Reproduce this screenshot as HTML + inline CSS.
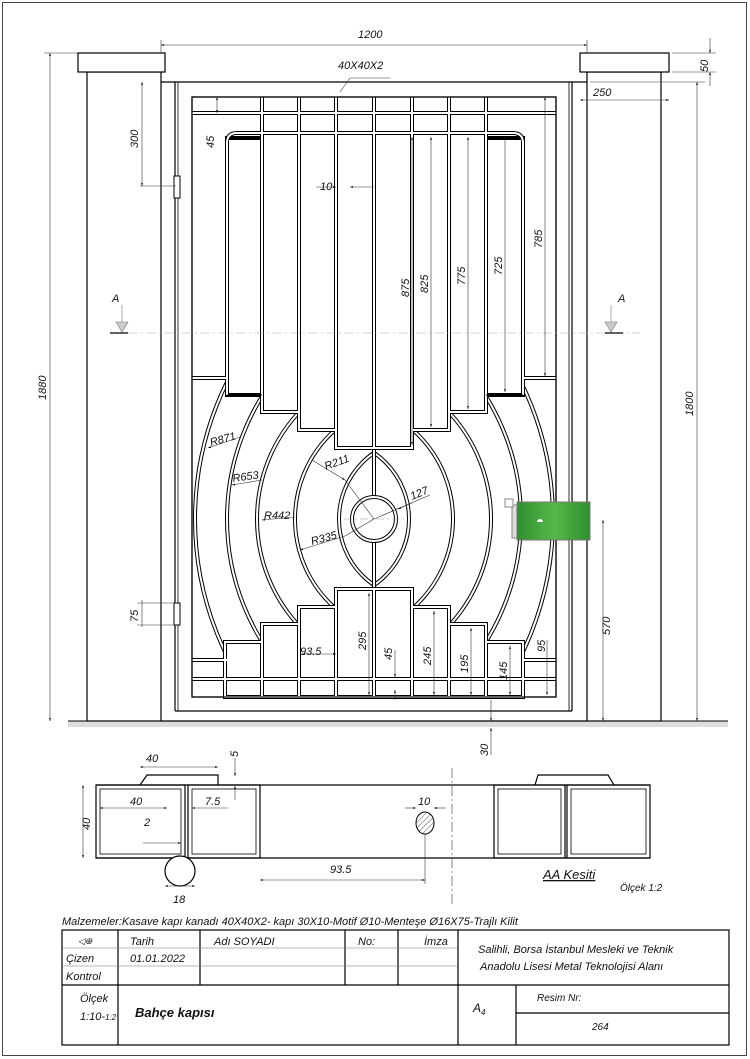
<!DOCTYPE html>
<html><head><meta charset="utf-8"><style>
html,body{margin:0;padding:0;background:#fff}
svg{display:block}
text{font-family:"Liberation Sans",sans-serif;font-style:italic;fill:#111}
</style></head><body>
<svg width="750" height="1059" viewBox="0 0 750 1059" xmlns="http://www.w3.org/2000/svg">
<defs>
<linearGradient id="g" x1="0" x2="1"><stop offset="0" stop-color="#2f8f2f"/><stop offset="0.5" stop-color="#55b84a"/><stop offset="1" stop-color="#2f8f2f"/></linearGradient>
<marker id="a" viewBox="0 0 10 10" refX="10" refY="5" markerWidth="7" markerHeight="5" orient="auto-start-reverse"><path d="M0,2 L10,5 L0,8z" fill="#000"/></marker>
<clipPath id="bandL"><rect x="192" y="378" width="182" height="282"/></clipPath>
<clipPath id="bandR"><rect x="374" y="378" width="182" height="282"/></clipPath>
<pattern id="h" width="4" height="4" patternUnits="userSpaceOnUse" patternTransform="rotate(45)"><line x1="0" y1="0" x2="0" y2="4" stroke="#555" stroke-width="1"/></pattern>
</defs>
<rect x="2.5" y="2.5" width="744" height="1053" fill="none" stroke="#444" stroke-width="1"/>

<rect x="68" y="721" width="660" height="6" fill="#ddd"/>
<line x1="68" y1="721" x2="728" y2="721" stroke="#000"/>

<g fill="#fff" stroke="#000" stroke-width="1.2">
<rect x="87" y="72" width="74" height="649"/>
<rect x="78" y="53" width="87" height="19"/>
<rect x="587" y="72" width="74" height="649"/>
<rect x="580" y="53" width="89" height="19"/>
</g>
<g fill="none" stroke="#000" stroke-width="1.2">
<line x1="161" y1="82" x2="587" y2="82"/>
<line x1="161" y1="721" x2="587" y2="721"/>
<line x1="175" y1="711" x2="572" y2="711"/>
<line x1="175" y1="82" x2="175" y2="711"/>
<line x1="572" y1="82" x2="572" y2="711"/>
<line x1="569" y1="82" x2="569" y2="711" stroke-width="0.8"/>
<line x1="178" y1="82" x2="178" y2="711" stroke-width="0.8"/>
<rect x="192" y="97" width="364" height="600"/>
</g>
<rect x="174" y="176" width="6" height="22" fill="#fff" stroke="#000"/>
<rect x="174" y="603" width="6" height="22" fill="#fff" stroke="#000"/>

<g fill="none">
<g clip-path="url(#bandL)">
<g stroke="#000" stroke-width="4">
<circle cx="414" cy="519" r="119"/><circle cx="414" cy="519" r="157"/><circle cx="459" cy="519" r="232"/><circle cx="504" cy="519" r="309"/><circle cx="419" cy="519" r="80"/>
</g>
<g stroke="#fff" stroke-width="2">
<circle cx="414" cy="519" r="119"/><circle cx="414" cy="519" r="157"/><circle cx="459" cy="519" r="232"/><circle cx="504" cy="519" r="309"/><circle cx="419" cy="519" r="80"/>
</g>
</g>
<g clip-path="url(#bandR)">
<g stroke="#000" stroke-width="4">
<circle cx="334" cy="519" r="119"/><circle cx="334" cy="519" r="157"/><circle cx="289" cy="519" r="232"/><circle cx="244" cy="519" r="309"/><circle cx="329" cy="519" r="80"/>
</g>
<g stroke="#fff" stroke-width="2">
<circle cx="334" cy="519" r="119"/><circle cx="334" cy="519" r="157"/><circle cx="289" cy="519" r="232"/><circle cx="244" cy="519" r="309"/><circle cx="329" cy="519" r="80"/>
</g>
</g>
</g>
<line x1="374" y1="448" x2="374" y2="590" stroke="#000" stroke-width="4"/>
<line x1="374" y1="448" x2="374" y2="590" stroke="#fff" stroke-width="2"/>
<circle cx="374" cy="519" r="22" fill="#fff" stroke="#000" stroke-width="4"/>
<circle cx="374" cy="519" r="22" fill="none" stroke="#fff" stroke-width="2"/>
<line x1="344" y1="519" x2="404" y2="519" stroke="#999" stroke-width="0.6" stroke-dasharray="8 3 2 3"/>

<g fill="#fff" stroke="#000" stroke-width="4">
<line x1="192" y1="113" x2="556" y2="113"/>
<line x1="262" y1="97" x2="262" y2="133"/><line x1="299" y1="97" x2="299" y2="133"/>
<line x1="336" y1="97" x2="336" y2="133"/><line x1="374" y1="97" x2="374" y2="133"/>
<line x1="412" y1="97" x2="412" y2="133"/><line x1="449" y1="97" x2="449" y2="133"/>
<line x1="486" y1="97" x2="486" y2="133"/>
<path d="M227,395 V143 Q227,133 237,133 H513 Q523,133 523,143 V395"/>
<rect x="262" y="133" width="37" height="279"/>
<rect x="449" y="133" width="37" height="279"/>
<rect x="299" y="133" width="37" height="297"/>
<rect x="412" y="133" width="37" height="297"/>
<rect x="336" y="133" width="76" height="315"/>
<rect x="227" y="138" width="35" height="257"/>
<rect x="486" y="138" width="37" height="257"/>
<line x1="374" y1="133" x2="374" y2="448"/>
<line x1="192" y1="378" x2="227" y2="378"/><line x1="523" y1="378" x2="556" y2="378"/>
<line x1="192" y1="660" x2="227" y2="660"/><line x1="523" y1="660" x2="556" y2="660"/>
<rect x="336" y="589" width="76" height="108"/>
<rect x="299" y="607" width="37" height="90"/>
<rect x="412" y="607" width="37" height="90"/>
<rect x="262" y="624" width="37" height="73"/>
<rect x="449" y="624" width="37" height="73"/>
<rect x="225" y="642" width="37" height="55"/>
<rect x="486" y="642" width="37" height="55"/>
<line x1="374" y1="589" x2="374" y2="697"/>
<line x1="192" y1="679" x2="556" y2="679"/>
</g>
<g fill="none" stroke="#fff" stroke-width="2">
<line x1="192" y1="113" x2="556" y2="113"/>
<line x1="262" y1="97" x2="262" y2="133"/><line x1="299" y1="97" x2="299" y2="133"/>
<line x1="336" y1="97" x2="336" y2="133"/><line x1="374" y1="97" x2="374" y2="133"/>
<line x1="412" y1="97" x2="412" y2="133"/><line x1="449" y1="97" x2="449" y2="133"/>
<line x1="486" y1="97" x2="486" y2="133"/>
<path d="M227,395 V143 Q227,133 237,133 H513 Q523,133 523,143 V395"/>
<rect x="262" y="133" width="37" height="279"/>
<rect x="449" y="133" width="37" height="279"/>
<rect x="299" y="133" width="37" height="297"/>
<rect x="412" y="133" width="37" height="297"/>
<rect x="336" y="133" width="76" height="315"/>
<line x1="374" y1="133" x2="374" y2="448"/>
<line x1="192" y1="378" x2="227" y2="378"/><line x1="523" y1="378" x2="556" y2="378"/>
<line x1="192" y1="660" x2="227" y2="660"/><line x1="523" y1="660" x2="556" y2="660"/>
<rect x="336" y="589" width="76" height="108"/>
<rect x="299" y="607" width="37" height="90"/>
<rect x="412" y="607" width="37" height="90"/>
<rect x="262" y="624" width="37" height="73"/>
<rect x="449" y="624" width="37" height="73"/>
<rect x="225" y="642" width="37" height="55"/>
<rect x="486" y="642" width="37" height="55"/>
<line x1="374" y1="589" x2="374" y2="697"/>
<line x1="192" y1="679" x2="556" y2="679"/>
</g>
<line x1="227" y1="395" x2="262" y2="395" stroke="#000" stroke-width="1"/>
<line x1="486" y1="395" x2="523" y2="395" stroke="#000" stroke-width="1"/>
<rect x="192" y="97" width="364" height="600" fill="none" stroke="#000" stroke-width="1.2"/>

<rect x="512" y="505" width="8" height="33" fill="#ddd" stroke="#888"/>
<rect x="505" y="499" width="8" height="8" fill="#fff" stroke="#888"/>
<rect x="517" y="502" width="73" height="38" fill="url(#g)" stroke="#777"/>
<path d="M537,522 a3,3 0 1,1 6,0 z" fill="#fff"/>

<line x1="110" y1="333" x2="640" y2="333" stroke="#aaa" stroke-width="0.6" stroke-dasharray="10 3 2 3"/>
<line x1="110" y1="333" x2="128" y2="333" stroke="#000" stroke-width="1.2"/>
<line x1="605" y1="333" x2="623" y2="333" stroke="#000" stroke-width="1.2"/>
<path d="M116,322 l6,10 l6,-10z" fill="#ccc" stroke="#777" stroke-width="0.6"/>
<path d="M605,322 l6,10 l6,-10z" fill="#ccc" stroke="#777" stroke-width="0.6"/>
<line x1="122" y1="305" x2="122" y2="322" stroke="#777" stroke-width="0.6"/>
<line x1="611" y1="305" x2="611" y2="322" stroke="#777" stroke-width="0.6"/>
<text x="112" y="302" font-size="11">A</text><text x="618" y="302" font-size="11">A</text>

<g stroke="#333" stroke-width="0.6" fill="none">
<line x1="161" y1="45" x2="587" y2="45" marker-start="url(#a)" marker-end="url(#a)"/>
<line x1="161" y1="40" x2="161" y2="53"/><line x1="587" y1="40" x2="587" y2="53"/>
<line x1="50" y1="53" x2="50" y2="721" marker-start="url(#a)" marker-end="url(#a)"/>
<line x1="44" y1="53" x2="78" y2="53"/>
<line x1="142" y1="82" x2="142" y2="186" marker-start="url(#a)" marker-end="url(#a)"/>
<line x1="140" y1="186" x2="176" y2="186"/>
<line x1="142" y1="600" x2="142" y2="627" />
<line x1="137" y1="603" x2="176" y2="603"/><line x1="137" y1="625" x2="176" y2="625"/>
<line x1="217" y1="97" x2="217" y2="113" marker-start="url(#a)" marker-end="url(#a)"/>
<line x1="316" y1="187" x2="336" y2="187" marker-end="url(#a)"/>
<line x1="350" y1="187" x2="374" y2="187" marker-start="url(#a)"/>
<line x1="412" y1="137" x2="412" y2="445" marker-start="url(#a)" marker-end="url(#a)"/>
<line x1="431" y1="137" x2="431" y2="427" marker-start="url(#a)" marker-end="url(#a)"/>
<line x1="468" y1="137" x2="468" y2="409" marker-start="url(#a)" marker-end="url(#a)"/>
<line x1="505" y1="137" x2="505" y2="392" marker-start="url(#a)" marker-end="url(#a)"/>
<line x1="545" y1="97" x2="545" y2="376" marker-start="url(#a)" marker-end="url(#a)"/>
<line x1="710" y1="38" x2="710" y2="53" marker-end="url(#a)"/>
<line x1="710" y1="72" x2="710" y2="86" marker-start="url(#a)"/>
<line x1="672" y1="53" x2="716" y2="53"/><line x1="672" y1="72" x2="716" y2="72"/>
<line x1="580" y1="100" x2="669" y2="100" marker-start="url(#a)" marker-end="url(#a)"/>
<line x1="697" y1="82" x2="697" y2="721" marker-start="url(#a)" marker-end="url(#a)"/>
<line x1="590" y1="82" x2="705" y2="82"/>
<line x1="603" y1="520" x2="603" y2="721" marker-start="url(#a)" marker-end="url(#a)"/>
<line x1="369" y1="593" x2="369" y2="695" marker-start="url(#a)" marker-end="url(#a)"/>
<line x1="395" y1="650" x2="395" y2="677" marker-end="url(#a)"/>
<line x1="395" y1="700" x2="395" y2="690" marker-end="url(#a)"/>
<line x1="434" y1="611" x2="434" y2="695" marker-start="url(#a)" marker-end="url(#a)"/>
<line x1="471" y1="628" x2="471" y2="695" marker-start="url(#a)" marker-end="url(#a)"/>
<line x1="510" y1="646" x2="510" y2="695" marker-start="url(#a)" marker-end="url(#a)"/>
<line x1="547" y1="640" x2="547" y2="695" marker-end="url(#a)"/>
<line x1="302" y1="654" x2="336" y2="654" marker-start="url(#a)" marker-end="url(#a)"/>
<line x1="491" y1="700" x2="491" y2="721" marker-end="url(#a)"/>
<line x1="491" y1="755" x2="491" y2="728" marker-end="url(#a)"/>
<line x1="350" y1="78" x2="340" y2="92"/><line x1="350" y1="78" x2="390" y2="78"/>
<line x1="208" y1="448" x2="240" y2="437" marker-start="url(#a)"/>
<line x1="232" y1="485" x2="262" y2="480" marker-start="url(#a)"/>
<line x1="262" y1="520" x2="295" y2="517" marker-start="url(#a)"/>
<line x1="312" y1="460" x2="345" y2="480" marker-end="url(#a)"/>
<line x1="345" y1="480" x2="374" y2="519"/>
<line x1="300" y1="550" x2="345" y2="536" marker-start="url(#a)"/>
<line x1="345" y1="536" x2="374" y2="519"/>
<line x1="374" y1="519" x2="430" y2="495"/>
<line x1="412" y1="503" x2="398" y2="509" marker-end="url(#a)"/>
</g>
<g font-size="11">
<text x="358" y="38">1200</text>
<text x="338" y="69">40X40X2</text>
<text x="593" y="96">250</text>
<text x="320" y="190">10</text>
<text x="300" y="655">93.5</text>
<text x="326" y="470" transform="rotate(-20 326 470)">R211</text>
<text x="412" y="500" transform="rotate(-22 412 500)">127</text>
<text x="211" y="446" transform="rotate(-15 211 446)">R871</text>
<text x="233" y="482" transform="rotate(-8 233 482)">R653</text>
<text x="264" y="519">R442</text>
<text x="312" y="545" transform="rotate(-15 312 545)">R335</text>
</g>
<g font-size="11">
<text transform="translate(46,400) rotate(-90)">1880</text>
<text transform="translate(138,148) rotate(-90)">300</text>
<text transform="translate(214,148) rotate(-90)">45</text>
<text transform="translate(138,622) rotate(-90)">75</text>
<text transform="translate(409,297) rotate(-90)">875</text>
<text transform="translate(428,293) rotate(-90)">825</text>
<text transform="translate(465,285) rotate(-90)">775</text>
<text transform="translate(502,275) rotate(-90)">725</text>
<text transform="translate(542,248) rotate(-90)">785</text>
<text transform="translate(708,72) rotate(-90)">50</text>
<text transform="translate(693,416) rotate(-90)">1800</text>
<text transform="translate(610,635) rotate(-90)">570</text>
<text transform="translate(366,650) rotate(-90)">295</text>
<text transform="translate(392,660) rotate(-90)">45</text>
<text transform="translate(431,665) rotate(-90)">245</text>
<text transform="translate(468,673) rotate(-90)">195</text>
<text transform="translate(507,680) rotate(-90)">145</text>
<text transform="translate(545,652) rotate(-90)">95</text>
<text transform="translate(488,756) rotate(-90)">30</text>
</g>

<g fill="none" stroke="#000" stroke-width="1.2">
<line x1="96" y1="785" x2="650" y2="785"/>
<line x1="96" y1="858" x2="650" y2="858"/>
<rect x="96" y="785" width="89" height="73"/>
<rect x="100" y="789" width="81" height="65" stroke-width="0.8"/>
<rect x="188" y="785" width="72" height="73"/>
<rect x="192" y="789" width="64" height="65" stroke-width="0.8"/>
<rect x="494" y="785" width="71" height="73"/>
<rect x="498" y="789" width="63" height="65" stroke-width="0.8"/>
<rect x="567" y="785" width="83" height="73"/>
<rect x="571" y="789" width="75" height="65" stroke-width="0.8"/>
<path d="M140,785 L147,775 H218 V785"/>
<path d="M535,785 L538,775 H608 L614,785"/>
</g>
<circle cx="180" cy="871" r="15" fill="#fff" stroke="#000" stroke-width="1.2"/>
<ellipse cx="425" cy="823" rx="9" ry="11" fill="url(#h)" stroke="#000"/>
<line x1="452" y1="768" x2="452" y2="905" stroke="#555" stroke-width="0.7" stroke-dasharray="10 3 2 3"/>
<g stroke="#333" stroke-width="0.6" fill="none">
<line x1="83" y1="785" x2="83" y2="858" marker-start="url(#a)" marker-end="url(#a)"/>
<line x1="140" y1="767" x2="218" y2="767" marker-start="url(#a)" marker-end="url(#a)"/>
<line x1="100" y1="808" x2="167" y2="808" marker-start="url(#a)" marker-end="url(#a)"/>
<line x1="192" y1="808" x2="228" y2="808" marker-start="url(#a)"/>
<line x1="143" y1="843" x2="181" y2="843" marker-end="url(#a)"/>
<line x1="235" y1="758" x2="235" y2="776" marker-end="url(#a)"/>
<line x1="235" y1="800" x2="235" y2="786" marker-end="url(#a)"/>
<line x1="260" y1="880" x2="425" y2="880" marker-start="url(#a)" marker-end="url(#a)"/>
<line x1="425" y1="834" x2="425" y2="884"/>
<line x1="405" y1="808" x2="416" y2="808" marker-end="url(#a)"/>
<line x1="446" y1="808" x2="434" y2="808" marker-end="url(#a)"/>
<line x1="165" y1="886" x2="195" y2="886" marker-start="url(#a)" marker-end="url(#a)"/>
</g>
<g font-size="11">
<text x="146" y="762">40</text>
<text x="238" y="757" transform="rotate(-90 238 757)">5</text>
<text x="130" y="805">40</text>
<text x="205" y="805">7.5</text>
<text x="144" y="826">2</text>
<text transform="translate(90,830) rotate(-90)">40</text>
<text x="330" y="873">93.5</text>
<text x="418" y="805">10</text>
<text x="173" y="903">18</text>
<text x="543" y="879" font-size="13" text-decoration="underline">AA Kesiti</text>
<text x="620" y="891" font-size="10">Ölçek 1:2</text>
</g>

<text x="62" y="925" font-size="11">Malzemeler:Kasave kapı kanadı 40X40X2- kapı 30X10-Motif Ø10-Menteşe Ø16X75-Trajlı Kilit</text>
<g fill="none" stroke="#000" stroke-width="1.2">
<rect x="62" y="930" width="667" height="115"/>
<line x1="62" y1="985" x2="729" y2="985"/>
<line x1="118" y1="930" x2="118" y2="1045"/>
<line x1="458" y1="930" x2="458" y2="1045"/>
<line x1="200" y1="930" x2="200" y2="985"/>
<line x1="345" y1="930" x2="345" y2="985"/>
<line x1="398" y1="930" x2="398" y2="985"/>
<line x1="516" y1="985" x2="516" y2="1045"/>
<line x1="516" y1="1013" x2="729" y2="1013"/>
</g>
<g stroke="#777" stroke-width="0.6">
<line x1="62" y1="948" x2="458" y2="948"/>
<line x1="62" y1="966" x2="458" y2="966"/>
</g>
<g font-size="11">
<text x="78" y="944" fill="#999" font-size="9">◁⊕</text>
<text x="130" y="945">Tarih</text>
<text x="214" y="945">Adı SOYADI</text>
<text x="358" y="945">No:</text>
<text x="424" y="945">İmza</text>
<text x="66" y="962">Çizen</text>
<text x="130" y="962">01.01.2022</text>
<text x="66" y="980">Kontrol</text>
<text x="478" y="953">Salihli, Borsa İstanbul Mesleki ve Teknik</text>
<text x="480" y="970">Anadolu Lisesi    Metal Teknolojisi Alanı</text>
<text x="80" y="1002">Ölçek</text>
<text x="80" y="1020">1:10-<tspan font-size="8">1:2</tspan></text>
<text x="135" y="1017" font-size="13" font-weight="bold">Bahçe kapısı</text>
<text x="473" y="1012" font-size="12">A<tspan font-size="8" dy="3">4</tspan></text>
<text x="537" y="1001" font-size="10">Resim Nr:</text>
<text x="592" y="1030" font-size="10">264</text>
</g>
</svg>
</body></html>
